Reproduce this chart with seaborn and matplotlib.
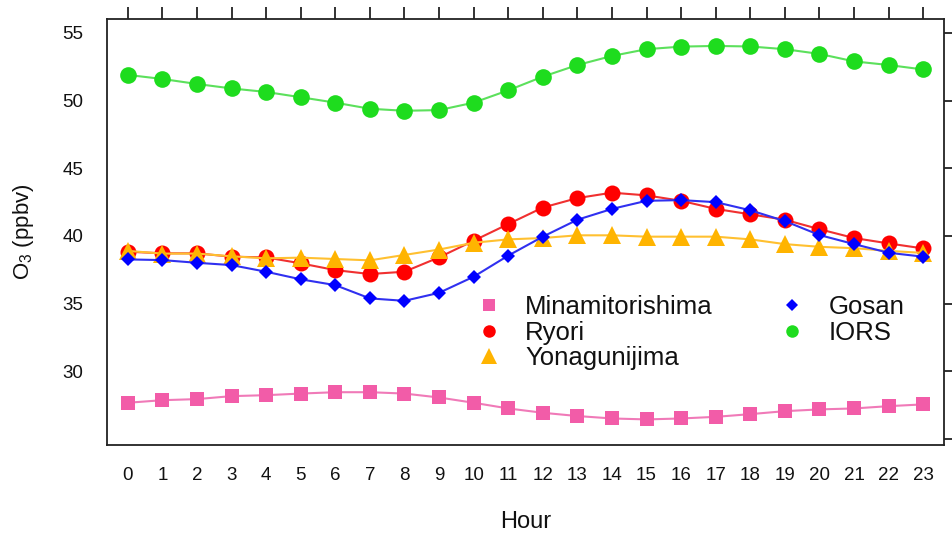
import matplotlib
matplotlib.use("Agg")
import matplotlib.pyplot as plt
from matplotlib.lines import Line2D
import seaborn as sns
import pandas as pd

hours = list(range(24))
minamitorishima = [27.68, 27.87, 27.95, 28.17, 28.24, 28.36, 28.46, 28.46, 28.36, 28.07, 27.68, 27.26,
                   26.94, 26.70, 26.52, 26.45, 26.52, 26.64, 26.84, 27.06, 27.19, 27.26, 27.43, 27.56]
ryori = [38.84, 38.72, 38.72, 38.47, 38.42, 37.98, 37.48, 37.19, 37.36, 38.42, 39.65, 40.88,
         42.10, 42.80, 43.20, 43.00, 42.60, 42.00, 41.60, 41.20, 40.50, 39.85, 39.45, 39.08]
yonagunijima = [38.90, 38.70, 38.70, 38.50, 38.35, 38.40, 38.30, 38.20, 38.60, 39.00, 39.50, 39.75,
                39.85, 40.05, 40.05, 39.95, 39.95, 39.95, 39.75, 39.40, 39.20, 39.10, 38.90, 38.75]
gosan = [38.27, 38.22, 38.02, 37.85, 37.36, 36.80, 36.37, 35.39, 35.21, 35.80, 36.99, 38.55,
         39.95, 41.20, 42.00, 42.60, 42.65, 42.50, 41.90, 41.10, 40.07, 39.40, 38.76, 38.47]
iors = [51.90, 51.60, 51.23, 50.90, 50.64, 50.25, 49.85, 49.40, 49.25, 49.30, 49.85, 50.76,
        51.77, 52.63, 53.30, 53.80, 53.99, 54.04, 54.00, 53.80, 53.45, 52.90, 52.63, 52.30]

stations = ["Minamitorishima", "Ryori", "Yonagunijima", "Gosan", "IORS"]
series = [minamitorishima, ryori, yonagunijima, gosan, iors]
y_ticks = [25, 30, 35, 40, 45, 50, 55]
y_ticklabels = ["", "30", "35", "40", "45", "50", "55"]

colors = {"Minamitorishima": "#F25CA8", "Ryori": "#FF0000", "Yonagunijima": "#FFB400",
          "Gosan": "#0000FF", "IORS": "#1EDC1E"}
line_colors = {"Minamitorishima": "#F07AB8", "Ryori": "#F03030", "Yonagunijima": "#FFC030",
               "Gosan": "#3030F0", "IORS": "#5CE05C"}
markers = {"Minamitorishima": "s", "Ryori": "o", "Yonagunijima": "^", "Gosan": "D", "IORS": "o"}
msizes = {"Minamitorishima": 10.5, "Ryori": 11.5, "Yonagunijima": 13, "Gosan": 7.5, "IORS": 12}
leg_sizes = {"Minamitorishima": 9, "Ryori": 9, "Yonagunijima": 12, "Gosan": 6.5, "IORS": 9}

sns.set_style("white")
plt.rcParams["font.family"] = ["Liberation Sans", "DejaVu Sans"]
plt.rcParams["mathtext.default"] = "regular"

fig = plt.figure(figsize=(9.53, 5.39), dpi=100)
ax = fig.add_axes([107 / 953, 1 - 445 / 539, (944 - 107) / 953, (445 - 19) / 539])

for name, vals in zip(stations, series):
    df = pd.DataFrame({"Hour": hours, "O3": vals})
    sns.lineplot(data=df, x="Hour", y="O3", ax=ax, color=line_colors[name], linewidth=1.5,
                 marker=markers[name], markersize=msizes[name], markerfacecolor=colors[name],
                 markeredgewidth=0, legend=False)

ax.set_xlim(-0.6, 23.6)
ax.set_ylim(24.56, 56.03)
ax.set_xticks(hours)
ax.set_xticklabels([str(h) for h in hours])
ax.set_yticks(y_ticks)
ax.set_yticklabels(y_ticklabels)

for sp in ax.spines.values():
    sp.set_visible(True)
    sp.set_color("#222222")
    sp.set_linewidth(1.3)

ax.tick_params(axis="both", which="major", direction="out", length=9, width=1.3, color="#222222",
               labelsize=13.5, labelcolor="#111111")
ax.tick_params(axis="x", pad=7, top=True, labeltop=False)
ax.tick_params(axis="y", pad=8, right=True, labelright=False)

ax.set_xlabel("Hour", fontsize=17, labelpad=19, color="#111111")
ax.set_ylabel("O$_3$ (ppbv)", fontsize=16, labelpad=19, color="#111111")

handles = [Line2D([], [], linestyle="none", marker=markers[n], color=colors[n],
                  markersize=leg_sizes[n], markeredgewidth=0) for n in stations]
leg = ax.legend(handles, stations, ncol=2, frameon=False, fontsize=18.5,
                loc="upper left", bbox_to_anchor=(468 / 953, 1 - 295 / 539),
                bbox_transform=fig.transFigure, borderpad=0, borderaxespad=0,
                handlelength=1.6, handletextpad=0.62, columnspacing=2.3, labelspacing=0.06)
for t in leg.get_texts():
    t.set_color("#111111")

fig.savefig("out.png", dpi=100)
